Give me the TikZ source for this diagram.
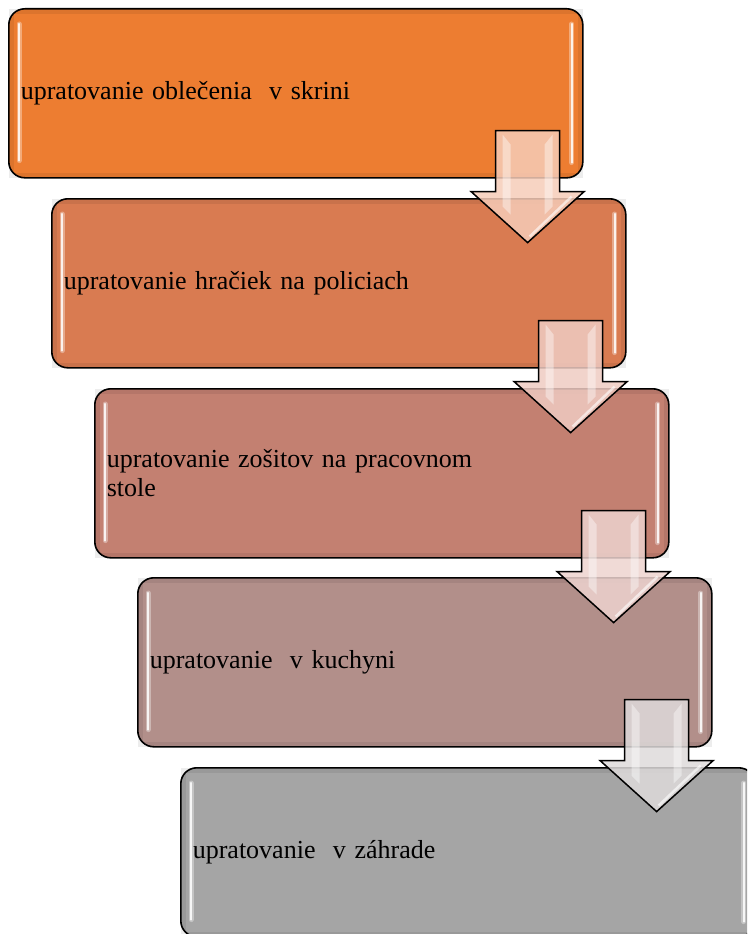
\documentclass[tikz,border=0pt]{standalone}
\usepackage{fontspec}
\setmainfont{Liberation Serif}
\usetikzlibrary{calc}
\definecolor{cA}{HTML}{ED7D31}
\definecolor{cB}{HTML}{D97B51}
\definecolor{cC}{HTML}{C38071}
\definecolor{cD}{HTML}{B28F8A}
\definecolor{cE}{HTML}{A5A5A5}
\definecolor{aA}{HTML}{F6CCB8}
\definecolor{aB}{HTML}{EFCBC2}
\definecolor{aC}{HTML}{EDD3CF}
\definecolor{aD}{HTML}{DEDADA}
\tikzset{
  stepbox/.style={draw=black, line width=1.6pt, rounded corners=16pt,
    minimum width=574pt, minimum height=169pt, anchor=north west,
    inner xsep=11pt, inner ysep=0pt, text width=550pt, align=left,
    font=\fontsize{26}{29}\selectfont},
  rim/.style={line width=5pt, draw=black, opacity=0.07},
  hlwide/.style={line width=5pt, draw=white, opacity=0.35, line cap=round},
  hlcore/.style={line width=2.2pt, draw=white, opacity=0.85, line cap=round},
  blockarrow/.style={draw=black, line width=1.5pt, line join=miter, fill opacity=0.85},
  bevel/.style={fill=white, fill opacity=0.4, draw=none},
}
\newcommand{\glossbox}[1]{%
  \draw[rim] ([shift={(3.5pt,-3.5pt)}]#1.north west) rectangle ([shift={(-3.5pt,3.5pt)}]#1.south east);
  \draw[hlwide] ([shift={(11pt,-16pt)}]#1.north west) -- ([shift={(11pt,18pt)}]#1.south west);
  \draw[hlcore] ([shift={(11pt,-16pt)}]#1.north west) -- ([shift={(11pt,18pt)}]#1.south west);
  \draw[hlwide] ([shift={(-12pt,-16pt)}]#1.north east) -- ([shift={(-12pt,16pt)}]#1.south east);
  \draw[hlcore] ([shift={(-12pt,-16pt)}]#1.north east) -- ([shift={(-12pt,16pt)}]#1.south east);
}
\newcommand{\blockdown}[2]{%
  \draw[blockarrow, fill=#2] (#1) ++(-32,0) -- ++(64,0) -- ++(0,61) -- ++(24.5,0)
     -- ++(-56.5,51) -- ++(-56.5,-51) -- ++(24.5,0) -- cycle;
  \fill[bevel] (#1) ++(-25,4) -- ++(8,10) -- ++(0,70) -- ++(-8,-8) -- cycle;
  \fill[bevel] (#1) ++(25,4) -- ++(-8,10) -- ++(0,70) -- ++(8,-8) -- cycle;
  \draw[white, opacity=0.6, line width=2.5pt] (#1) ++(44,66) -- ++(-42,40);
}
\begin{document}
\begin{tikzpicture}[x=1pt,y=-1pt]
\useasboundingbox (0,0) rectangle (747,934);
\clip (0,0) rectangle (747,934);

\node[stepbox, fill=cA] (b1) at (8,8) {upratovanie oblečenia \ v skrini};
\glossbox{b1}
\node[stepbox, fill=cB] (b2) at (51,198) {upratovanie hračiek na policiach};
\glossbox{b2}
\node[stepbox, fill=cC] (b3) at (94,388) {upratovanie zošitov na pracovnom\\stole};
\glossbox{b3}
\node[stepbox, fill=cD] (b4) at (137,577) {upratovanie \ v kuchyni};
\glossbox{b4}
\node[stepbox, fill=cE] (b5) at (180,767) {upratovanie \ v záhrade};
\glossbox{b5}

\coordinate (t1) at ($(b1.south east)+(-56,-48)$);
\coordinate (t2) at ($(b2.south east)+(-56,-48)$);
\coordinate (t3) at ($(b3.south east)+(-56,-48)$);
\coordinate (t4) at ($(b4.south east)+(-56,-48)$);
\blockdown{t1}{aA}
\blockdown{t2}{aB}
\blockdown{t3}{aC}
\blockdown{t4}{aD}
\end{tikzpicture}
\end{document}
